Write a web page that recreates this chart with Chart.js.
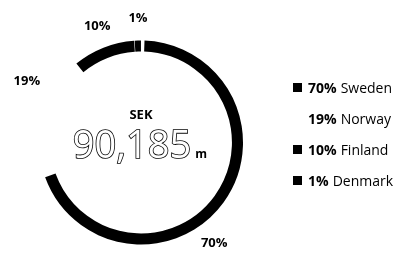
<!DOCTYPE html>
<html>
<head>
<meta charset="utf-8">
<script src="https://cdn.jsdelivr.net/npm/chart.js@4/dist/chart.umd.min.js"></script>
<style>
    html, body { margin: 0; padding: 0; background: #fff; }
    #wrap { position: relative; width: 404px; height: 254px; font-family: "Open Sans", sans-serif; }
    #chart { position: absolute; left: 0; top: 0; }
    #legend { position: absolute; left: 293px; top: 72px; }
    .row { height: 31px; display: flex; align-items: center; font-size: 14px; color: #000; white-space: nowrap; }
    .box { width: 9px; height: 9px; margin-right: 6px; }
    .row b { font-weight: 700; margin-right: 4px; }
</style>
</head>
<body>
<div id="wrap">
    <canvas id="chart" width="404" height="254"></canvas>
    <div id="legend"></div>
</div>
<script>
var countries = ['Sweden', 'Norway', 'Finland', 'Denmark'];
var shares = [70, 19, 10, 1];
var colours = ['#000000', '#ffffff', '#000000', '#000000'];
var currency = 'SEK';
var total = '90,185';
var unit = 'm';

// percent labels round the ring
var outLabels = {
    id: 'outLabels',
    afterDatasetsDraw: function (chart, args, opts) {
        var ctx = chart.ctx;
        var meta = chart.getDatasetMeta(0);
        ctx.save();
        ctx.font = 'bold 13px "Open Sans"';
        ctx.fillStyle = '#000';
        ctx.textAlign = 'center';
        ctx.textBaseline = 'middle';
        meta.data.forEach(function (arc, i) {
            var a = (arc.startAngle + arc.endAngle) / 2 + (opts.shift[i] || 0) * Math.PI / 180;
            var r = arc.outerRadius + opts.gap + (opts.extra[i] || 0);
            ctx.fillText(shares[i] + '%', arc.x + Math.cos(a) * r, arc.y + Math.sin(a) * r);
        });
        ctx.restore();
    }
};

// currency + total in the hole
var centreText = {
    id: 'centreText',
    afterDatasetsDraw: function (chart) {
        var ctx = chart.ctx;
        var arc = chart.getDatasetMeta(0).data[0];
        var cx = arc.x, cy = arc.y;
        ctx.save();
        ctx.textBaseline = 'alphabetic';
        ctx.textAlign = 'center';
        ctx.fillStyle = '#000';
        ctx.font = 'bold 13px "Open Sans"';
        ctx.fillText(currency, cx, cy - 24);

        ctx.font = '38px "Open Sans"';
        var w = ctx.measureText(total).width;
        var x0 = cx - 9 - w / 2;
        ctx.textAlign = 'left';
        ctx.fillStyle = '#fff';
        ctx.strokeStyle = '#000';
        ctx.lineWidth = 1.6;
        ctx.strokeText(total, x0, cy + 15);
        ctx.fillText(total, x0, cy + 15);

        ctx.fillStyle = '#000';
        ctx.font = 'bold 12px "Open Sans"';
        ctx.fillText(unit, x0 + w + 4, cy + 15);
        ctx.restore();
    }
};

var chart = new Chart(document.getElementById('chart'), {
    type: 'doughnut',
    data: {
        labels: countries,
        datasets: [{
            data: shares,
            backgroundColor: colours,
            borderWidth: 0,
            spacing: 3
        }]
    },
    options: {
        responsive: false,
        animation: false,
        cutout: '89%',
        layout: { padding: { left: 39, top: 40.5, right: 161, bottom: 9.5 } },
        plugins: {
            legend: { display: false },
            tooltip: { enabled: false },
            outLabels: { gap: 24, shift: [18, 12, 1, 0.4], extra: [0, 5, 0, 0] }
        }
    },
    plugins: [outLabels, centreText]
});

var legend = document.getElementById('legend');
countries.forEach(function (name, i) {
    var row = document.createElement('div');
    row.className = 'row';
    row.innerHTML = '<span class="box" style="background:' + colours[i] + '"></span><b>' + shares[i] + '%</b>' + name;
    legend.appendChild(row);
});
</script>
</body>
</html>
